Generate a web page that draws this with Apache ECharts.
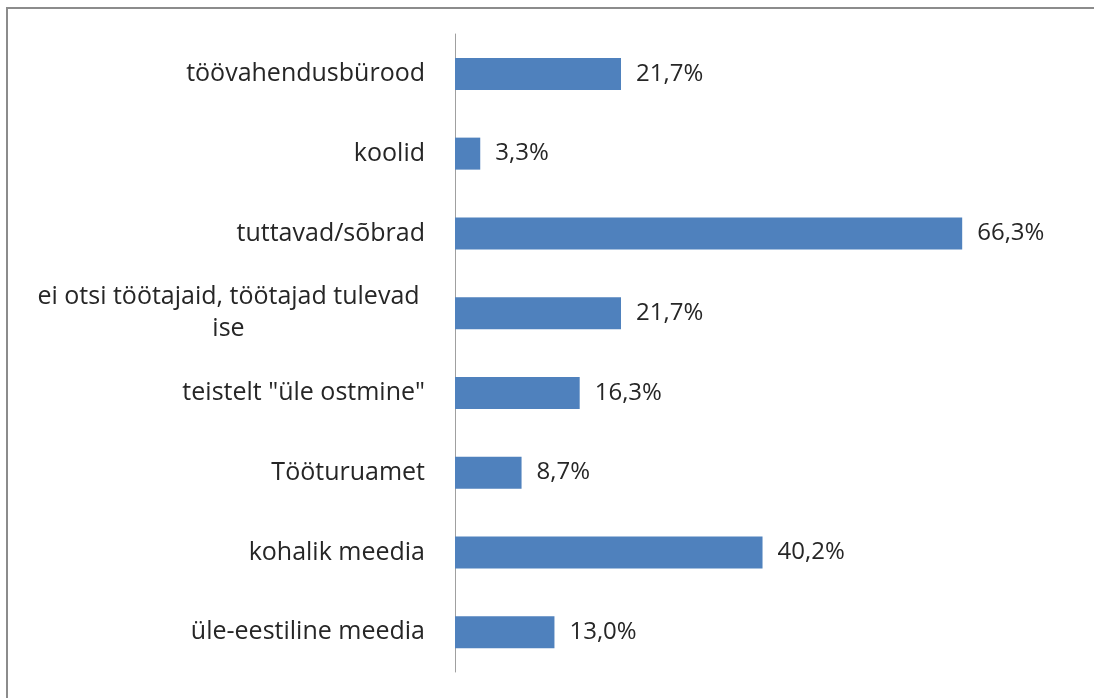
<!DOCTYPE html>
<html>
<head>
<meta charset="utf-8">
<script src="https://cdn.jsdelivr.net/npm/echarts@6/dist/echarts.min.js"></script>
<style>
  html, body { margin: 0; padding: 0; background: #fff; overflow: hidden; }
  #chart { width: 1094px; height: 698px; }
  #frame {
    position: absolute; left: 6px; top: 7px; width: 1200px; height: 800px;
    border-top: 2px solid #8c8c8c; border-left: 2px solid #8c8c8c;
    pointer-events: none;
  }
</style>
</head>
<body>
<div id="chart"></div>
<div id="frame"></div>
<script>
// kategooriad ülevalt alla
const categories = [
  'töövahendusbürood',
  'koolid',
  'tuttavad/sõbrad',
  'ei otsi töötajaid, töötajad tulevad ise',
  'teistelt "üle ostmine"',
  'Tööturuamet',
  'kohalik meedia',
  'üle-eestiline meedia'
]
const values = [21.7, 3.3, 66.3, 21.7, 16.3, 8.7, 40.2, 13.0]

const FONT = '"Open Sans", sans-serif'
const FSIZE = 25

const option = {
  animation: false,
  backgroundColor: '#fff',
  grid: {
    left: 455,
    top: 34,
    width: 612,
    height: 638
  },
  xAxis: {
    type: 'value',
    min: 0,
    max: 80,
    show: false
  },
  yAxis: {
    type: 'category',
    inverse: true,
    data: categories,
    axisLine: { show: true, lineStyle: { color: '#a0a0a0', width: 1 } },
    axisTick: { show: false },
    splitLine: { show: false },
    axisLabel: {
      margin: 30,
      fontFamily: FONT,
      fontSize: FSIZE,
      color: '#262626',
      formatter: function (v) {
        if (v.indexOf('ei otsi') === 0) {
          return '{a|ei otsi töötajaid, töötajad tulevad}\n{a|ise}'
        }
        return v
      },
      rich: {
        a: { fontFamily: FONT, fontSize: FSIZE, color: '#262626', lineHeight: 32, width: 393, align: 'center' }
      }
    }
  },
  series: [{
    type: 'bar',
    data: values,
    barWidth: 32,
    itemStyle: { color: '#4F81BD' },
    label: {
      show: true,
      position: 'right',
      distance: 15,
      fontFamily: FONT,
      fontSize: 24,
      color: '#262626',
      formatter: function (p) {
        return p.value.toFixed(1).replace('.', ',') + '%'
      }
    }
  }]
}

const chart = echarts.init(document.getElementById('chart'))
chart.setOption(option)
</script>
</body>
</html>
